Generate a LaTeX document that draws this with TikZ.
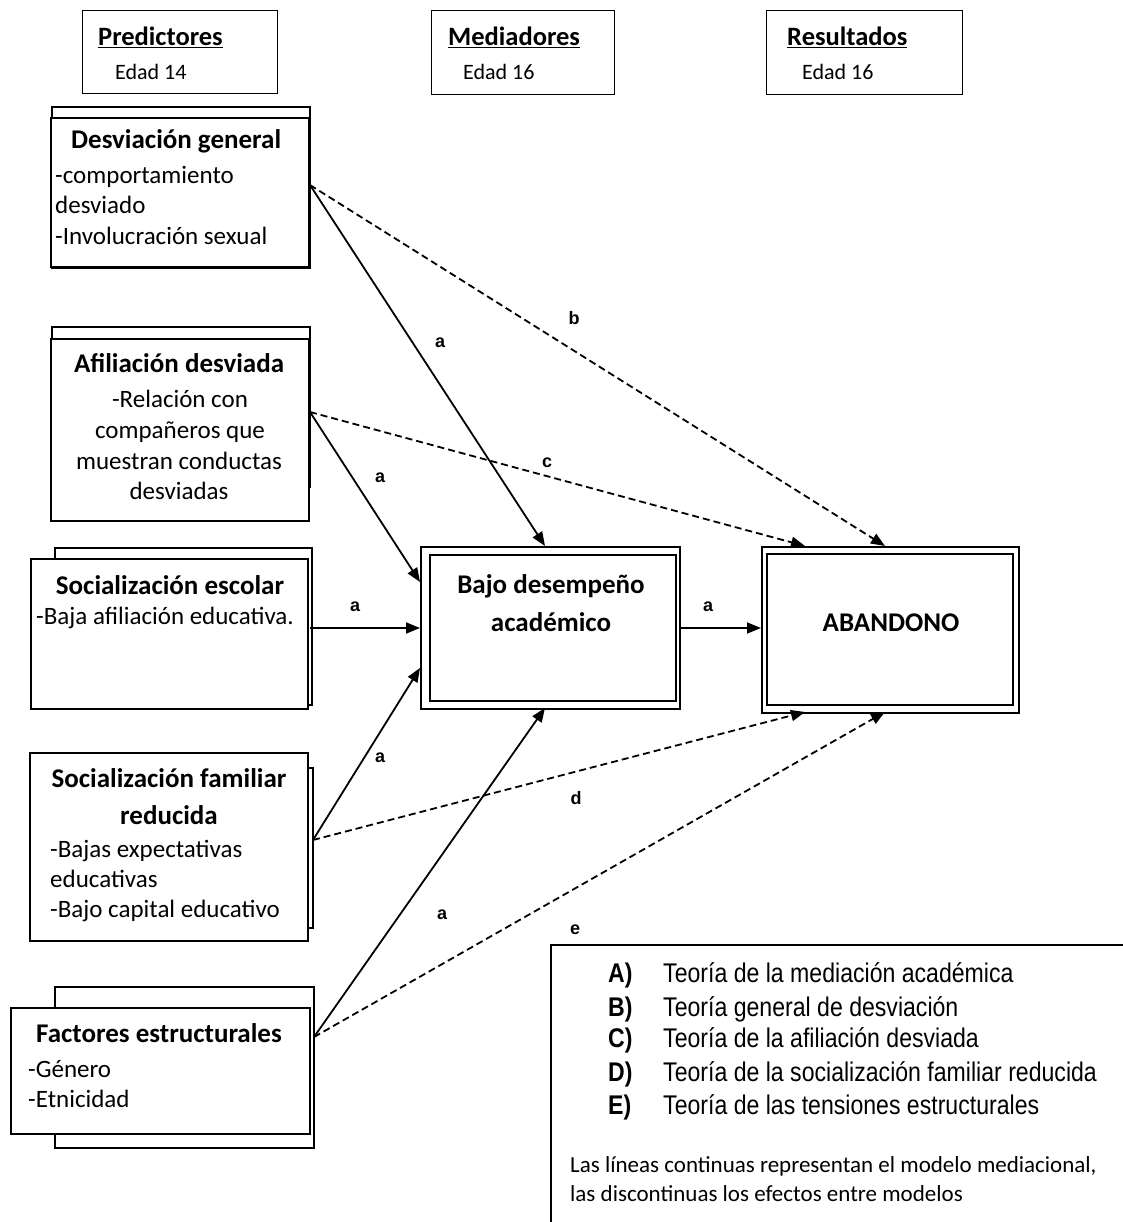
\documentclass[tikz,border=0pt]{standalone}
\usepackage{fontspec}
\setmainfont{Carlito}
\newfontfamily\legendfont[FakeStretch=0.855]{Liberation Sans}
\newfontfamily\tagfont{Liberation Sans}
\usetikzlibrary{arrows.meta}

\begin{document}
\begin{tikzpicture}[x=1pt,y=-1pt,
  sheet/.style={draw=black,line width=1.6pt,fill=white},
  hdrbox/.style={draw=black,line width=1.3pt,inner sep=0pt},
  ttl/.style={font=\fontsize{27}{30}\selectfont\bfseries,inner sep=0pt},
  body/.style={font=\fontsize{25}{30}\selectfont,inner sep=0pt},
  hdrttl/.style={font=\fontsize{26.5}{30}\selectfont\bfseries,inner sep=0pt},
  hdrsub/.style={font=\fontsize{22}{26}\selectfont,inner sep=0pt},
  tag/.style={font=\tagfont\fontsize{18}{20}\selectfont\bfseries,inner sep=0pt},
  lgd/.style={font=\legendfont\fontsize{27}{30}\selectfont,inner sep=0pt},
  lgdkey/.style={font=\legendfont\fontsize{27}{30}\selectfont\bfseries,inner sep=0pt},
  note/.style={font=\fontsize{23}{28}\selectfont,inner sep=0pt},
  path/.style={line width=1.8pt,-{Triangle[length=14pt,width=11pt]}},
  cross/.style={line width=1.8pt,dash pattern=on 7pt off 4pt,-{Triangle[length=14pt,width=11pt]}},
]
\useasboundingbox (0,0) rectangle (1123,1222);

% ---------- column headers ----------
\node[hdrbox,minimum width=195pt,minimum height=83pt,anchor=north west] (hp) at (82,10) {};
\node[hdrttl,anchor=mid west] (hpt) at (98,43) {\underline{Predictores}};
\node[hdrsub,anchor=mid west] (hps) at (115,77) {Edad 14};

\node[hdrbox,minimum width=183pt,minimum height=84pt,anchor=north west] (hm) at (431,10) {};
\node[hdrttl,anchor=mid west] (hmt) at (448,43) {\underline{Mediadores}};
\node[hdrsub,anchor=mid west] (hms) at (463,77) {Edad 16};

\node[hdrbox,minimum width=196pt,minimum height=84pt,anchor=north west] (hr) at (766,10) {};
\node[hdrttl,anchor=mid west] (hrt) at (787,43) {\underline{Resultados}};
\node[hdrsub,anchor=mid west] (hrs) at (802,77) {Edad 16};

% ---------- predictors (stacked sheets) ----------
% general deviance
\draw[sheet] (52,107) rectangle (310,268);
\node[sheet,minimum width=258pt,minimum height=149pt,anchor=north west] (dg) at (50,117) {};
\node[ttl,anchor=mid west] (dgt) at (71,146) {Desviación general};
\node[body,anchor=mid west] (dg1) at (55,181) {-comportamiento};
\node[body,anchor=mid west] (dg2) at (55,211) {desviado};
\node[body,anchor=mid west] (dg3) at (55,242) {-Involucración sexual};

% deviant affiliation
\draw[sheet] (52,327) rectangle (310,487);
\node[sheet,minimum width=258pt,minimum height=182pt,anchor=north west] (ad) at (50,338) {};
\node[ttl,anchor=mid] (adt) at (179,370) {Afiliación desviada};
\node[body,anchor=mid] (ad1) at (180,405) {-Relación con};
\node[body,anchor=mid] (ad2) at (180,436) {compañeros que};
\node[body,anchor=mid] (ad3) at (179,467) {muestran conductas};
\node[body,anchor=mid] (ad4) at (179,497) {desviadas};

% school socialization
\draw[sheet] (55,548) rectangle (312,705);
\node[sheet,minimum width=277pt,minimum height=150pt,anchor=north west] (se) at (30,558) {};
\node[ttl,anchor=mid] (set) at (170,592) {Socialización escolar};
\node[body,anchor=mid west] (se1) at (36,622) {-Baja afiliación educativa.};

% reduced family socialization
\draw[sheet] (33,768) rectangle (313,928);
\node[sheet,minimum width=278pt,minimum height=188pt,anchor=north west] (sf) at (29,752) {};
\node[ttl,anchor=mid] (sft) at (169,785) {Socialización familiar};
\node[ttl,anchor=mid] (sft2) at (169,822) {reducida};
\node[body,anchor=mid west] (sf1) at (50,855) {-Bajas expectativas};
\node[body,anchor=mid west] (sf2) at (50,885) {educativas};
\node[body,anchor=mid west] (sf3) at (50,915) {-Bajo capital educativo};

% structural factors
\draw[sheet] (55,987) rectangle (314,1148);
\node[sheet,minimum width=299pt,minimum height=126pt,anchor=north west] (fe) at (10,1007) {};
\node[ttl,anchor=mid] (fet) at (159,1040) {Factores estructurales};
\node[body,anchor=mid west] (fe1) at (28,1075) {-Género};
\node[body,anchor=mid west] (fe2) at (28,1105) {-Etnicidad};

% ---------- mediator and outcome ----------
\node[sheet,minimum width=259pt,minimum height=162pt,anchor=north west] (bd) at (420,546) {};
\draw[line width=1.6pt] (430,555) rectangle (676,701);
\node[ttl,anchor=mid] (bdt) at (551,591) {Bajo desempeño};
\node[ttl,anchor=mid] (bdt2) at (551,629) {académico};

\node[sheet,minimum width=257pt,minimum height=166pt,anchor=north west] (ab) at (761,546) {};
\draw[line width=1.6pt] (767,554) rectangle (1013,705);
\node[ttl,anchor=mid] (abt) at (891,629) {ABANDONO};

% ---------- ports on the boxes ----------
\coordinate (dgp) at (310,185);
\coordinate (adp) at (310,412);
\coordinate (sep) at (310,628);
\coordinate (sfp) at (313,840);
\coordinate (fep) at (314,1037);
\coordinate (bdtop) at (545,546);
\coordinate (bdl1) at (420,582);
\coordinate (bdl2) at (420,628);
\coordinate (bdl3) at (420,668);
\coordinate (bdbot) at (545,708);
\coordinate (bdr) at (679,628);
\coordinate (abl) at (761,628);
\coordinate (abt1) at (805,546);
\coordinate (abt2) at (885,546);
\coordinate (abb1) at (805,712);
\coordinate (abb2) at (885,712);

% ---------- mediational paths ----------
\draw[path] (dgp) -- (bdtop);
\draw[path] (adp) -- (bdl1);
\draw[path] (sep) -- (bdl2);
\draw[path] (sfp) -- (bdl3);
\draw[path] (fep) -- (bdbot);
\draw[path] (bdr) -- (abl);

% ---------- direct effects ----------
\draw[cross] (dgp) -- (abt2);
\draw[cross] (adp) -- (abt1);
\draw[cross] (sfp) -- (abb1);
\draw[cross] (fep) -- (abb2);

% ---------- path labels ----------
\node[tag] (la1) at (440,343) {a};
\node[tag] (la2) at (380,478) {a};
\node[tag] (la3) at (355,607) {a};
\node[tag] (la4) at (380,758) {a};
\node[tag] (la5) at (442,915) {a};
\node[tag] (la6) at (708,607) {a};
\node[tag] (lb) at (574,318) {b};
\node[tag] (lc) at (547,463) {c};
\node[tag] (ld) at (576,798) {d};
\node[tag] (le) at (575,930) {e};

% ---------- legend ----------
\draw[line width=1.3pt] (1123,945) -- (551,945) -- (551,1222);
\node[lgdkey,anchor=mid west] (ka) at (608,980) {A)};
\node[lgd,anchor=mid west] (ta) at (663,980) {Teoría de la mediación académica};
\node[lgdkey,anchor=mid west] (kb) at (608,1014) {B)};
\node[lgd,anchor=mid west] (tb) at (663,1014) {Teoría general de desviación};
\node[lgdkey,anchor=mid west] (kc) at (608,1045) {C)};
\node[lgd,anchor=mid west] (tc) at (663,1045) {Teoría de la afiliación desviada};
\node[lgdkey,anchor=mid west] (kd) at (608,1079) {D)};
\node[lgd,anchor=mid west] (td) at (663,1079) {Teoría de la socialización familiar reducida};
\node[lgdkey,anchor=mid west] (ke) at (608,1112) {E)};
\node[lgd,anchor=mid west] (te) at (663,1112) {Teoría de las tensiones estructurales};
\node[note,anchor=mid west] (n1) at (570,1170) {Las líneas continuas representan el modelo mediacional,};
\node[note,anchor=mid west] (n2) at (570,1199) {las discontinuas los efectos entre modelos};
\end{tikzpicture}
\end{document}
